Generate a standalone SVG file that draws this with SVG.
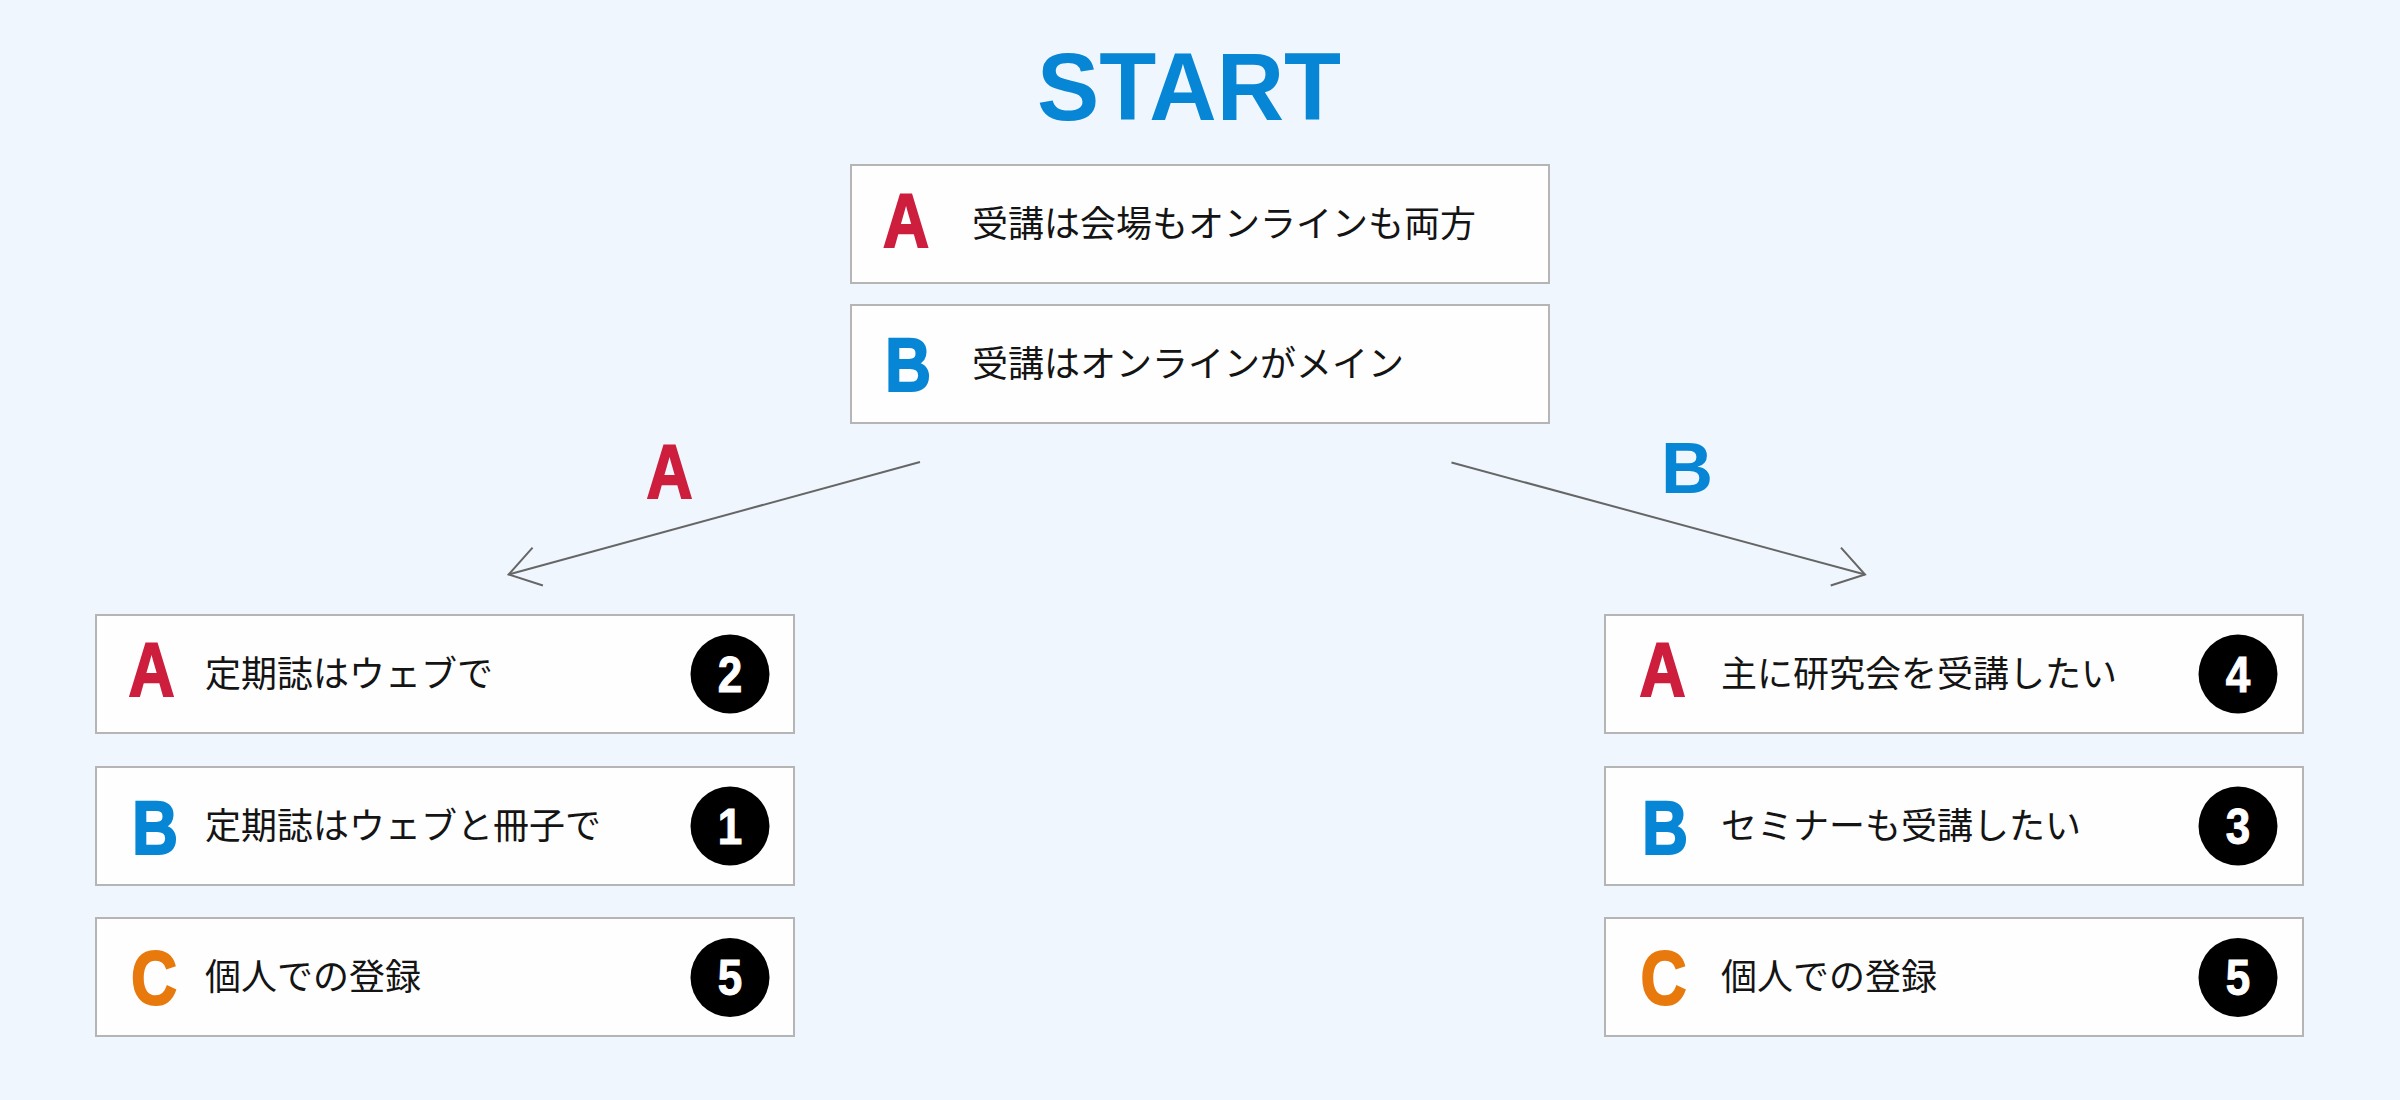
<svg xmlns="http://www.w3.org/2000/svg" width="2400" height="1100" viewBox="0 0 2400 1100">
<style>
.bg{fill:#eff6fd}
.box{fill:#fefefe;stroke:#b5b5b5;stroke-width:2}
.txt{font-family:"Noto Sans CJK JP","Noto Sans",sans-serif;font-size:36px;fill:#141414}
.let{font-family:"Liberation Sans",Arial,sans-serif;font-weight:bold;font-size:76px;text-anchor:middle;stroke-width:2;stroke-linejoin:miter}
.ra{fill:#cd1e3d;stroke:#cd1e3d}
.bb{fill:#0786d6;stroke:#0786d6}
.oc{fill:#e8790c;stroke:#e8790c}
.badge{fill:#000}
.num{font-family:"Liberation Sans",Arial,sans-serif;font-weight:bold;font-size:50px;fill:#fff;stroke:#fff;stroke-width:1;text-anchor:middle}
.conn{stroke:#666;stroke-width:2;fill:none}
</style>
<defs>
<marker id="arr" markerUnits="userSpaceOnUse" markerWidth="80" markerHeight="80" viewBox="-40 -40 80 80" refX="0" refY="0" orient="auto" overflow="visible">
<path d="M-30.2,-19.6 L0,0 L-30.2,19.6" fill="none" stroke="#666" stroke-width="2"/>
</marker>
</defs>
<rect class="bg" x="0" y="0" width="2400" height="1100"/>

<g id="title">
<text x="1189" y="120" font-family="Liberation Sans, Arial, sans-serif" font-weight="bold" font-size="96" fill="#0786d6" text-anchor="middle" textLength="304" lengthAdjust="spacingAndGlyphs">START</text>
</g>

<g id="start-a">
<rect class="box" x="851" y="165" width="698" height="118"/>
<text class="let ra" transform="translate(906,247) scale(0.84,1)">A</text>
<text class="txt" x="972" y="237">受講は会場もオンラインも両方</text>
</g>
<g id="start-b">
<rect class="box" x="851" y="305" width="698" height="118"/>
<text class="let bb" transform="translate(908,391) scale(0.84,1)">B</text>
<text class="txt" x="972" y="377">受講はオンラインがメイン</text>
</g>

<g id="connectors">
<line class="conn" x1="920" y1="462" x2="508.6" y2="574.5" marker-end="url(#arr)"/>
<line class="conn" x1="1451.5" y1="462.5" x2="1865" y2="574.5" marker-end="url(#arr)"/>
<text class="let ra" transform="translate(669.5,498) scale(0.84,1)">A</text>
<text x="1687" y="493" font-family="Liberation Sans, Arial, sans-serif" font-weight="bold" font-size="72" fill="#0786d6" text-anchor="middle">B</text>
</g>

<g id="left-a">
<rect class="box" x="96" y="615" width="698" height="118"/>
<text class="let ra" transform="translate(151.5,696) scale(0.84,1)">A</text>
<text class="txt" x="205" y="687">定期誌はウェブで</text>
<circle class="badge" cx="730" cy="674" r="39.5"/>
<text class="num" transform="translate(730,691.5) scale(0.88,1)">2</text>
</g>
<g id="left-b">
<rect class="box" x="96" y="767" width="698" height="118"/>
<text class="let bb" transform="translate(155,854) scale(0.84,1)">B</text>
<text class="txt" x="205" y="839">定期誌はウェブと冊子で</text>
<circle class="badge" cx="730" cy="826" r="39.5"/>
<text class="num" transform="translate(730,843.5) scale(0.88,1)">1</text>
</g>
<g id="left-c">
<rect class="box" x="96" y="918" width="698" height="118"/>
<text class="let oc" transform="translate(154,1004) scale(0.84,1)">C</text>
<text class="txt" x="205" y="990">個人での登録</text>
<circle class="badge" cx="730" cy="977.5" r="39.5"/>
<text class="num" transform="translate(730,995) scale(0.88,1)">5</text>
</g>

<g id="right-a">
<rect class="box" x="1605" y="615" width="698" height="118"/>
<text class="let ra" transform="translate(1662.5,696) scale(0.84,1)">A</text>
<text class="txt" x="1721" y="687">主に研究会を受講したい</text>
<circle class="badge" cx="2238" cy="674" r="39.5"/>
<text class="num" transform="translate(2238,691.5) scale(0.88,1)">4</text>
</g>
<g id="right-b">
<rect class="box" x="1605" y="767" width="698" height="118"/>
<text class="let bb" transform="translate(1665,854) scale(0.84,1)">B</text>
<text class="txt" x="1721" y="839">セミナーも受講したい</text>
<circle class="badge" cx="2238" cy="826" r="39.5"/>
<text class="num" transform="translate(2238,843.5) scale(0.88,1)">3</text>
</g>
<g id="right-c">
<rect class="box" x="1605" y="918" width="698" height="118"/>
<text class="let oc" transform="translate(1663.5,1004) scale(0.84,1)">C</text>
<text class="txt" x="1721" y="990">個人での登録</text>
<circle class="badge" cx="2238" cy="977.5" r="39.5"/>
<text class="num" transform="translate(2238,995) scale(0.88,1)">5</text>
</g>
</svg>
